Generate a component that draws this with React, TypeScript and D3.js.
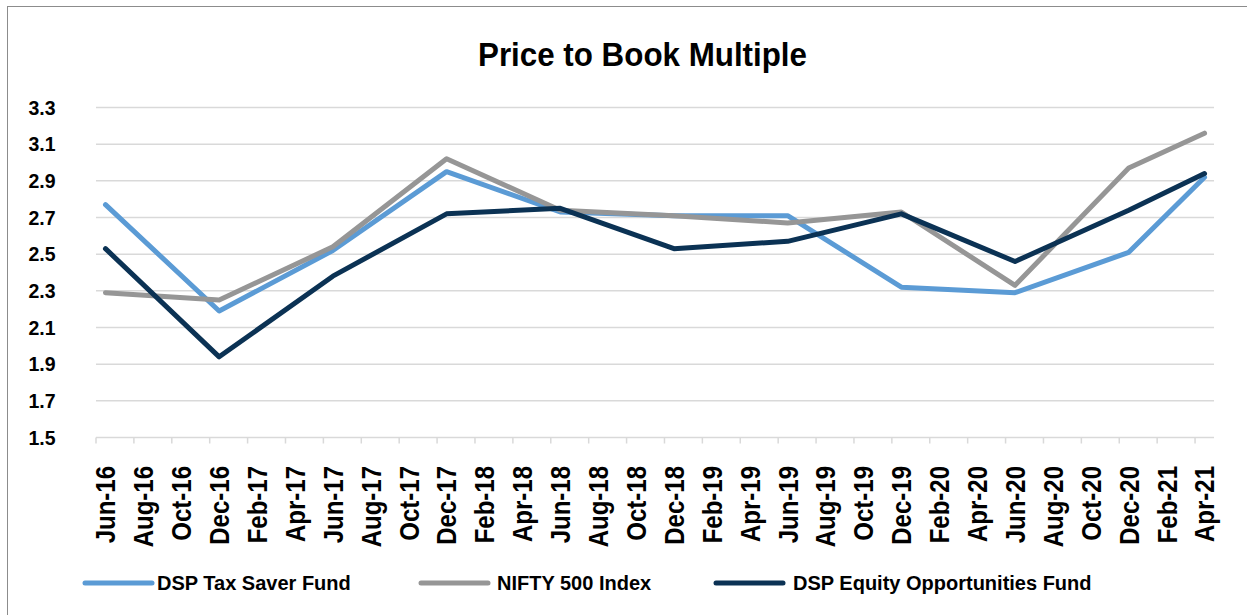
import React from 'react';
import * as d3 from 'd3';

// Price to Book multiple, semi-annual observations
const periods = ['Jun-16', 'Dec-16', 'Jun-17', 'Dec-17', 'Jun-18', 'Dec-18', 'Jun-19', 'Dec-19', 'Jun-20', 'Dec-20', 'Apr-21'];
const taxSaver = [2.77, 2.19, 2.52, 2.95, 2.73, 2.71, 2.71, 2.32, 2.29, 2.51, 2.92];
const nifty500 = [2.29, 2.25, 2.54, 3.02, 2.74, 2.71, 2.67, 2.73, 2.33, 2.97, 3.16];
const equityOpp = [2.53, 1.94, 2.38, 2.72, 2.75, 2.53, 2.57, 2.72, 2.46, 2.74, 2.94];

const tickLabels = [
  'Jun-16', 'Aug-16', 'Oct-16', 'Dec-16', 'Feb-17', 'Apr-17', 'Jun-17', 'Aug-17', 'Oct-17', 'Dec-17',
  'Feb-18', 'Apr-18', 'Jun-18', 'Aug-18', 'Oct-18', 'Dec-18', 'Feb-19', 'Apr-19', 'Jun-19', 'Aug-19',
  'Oct-19', 'Dec-19', 'Feb-20', 'Apr-20', 'Jun-20', 'Aug-20', 'Oct-20', 'Dec-20', 'Feb-21', 'Apr-21',
];
const yTickValues = [1.5, 1.7, 1.9, 2.1, 2.3, 2.5, 2.7, 2.9, 3.1, 3.3];

const seriesNames = ['DSP Tax Saver Fund', 'NIFTY 500 Index', 'DSP Equity Opportunities Fund'];
const seriesColors = ['#5B9BD5', '#969696', '#0B3254'];

const W = 1247;
const H = 615;
const FONT = "'Liberation Sans', Arial, sans-serif";

const parse = d3.timeParse('%b-%y');
const start = parse('Jun-16') as Date;
const monthIdx = (s: string) => d3.timeMonth.count(start, parse(s) as Date);

export default function App() {
  const nMonths = monthIdx('Apr-21') + 1; // 59 monthly slots
  const x = d3.scaleLinear().domain([0, nMonths]).range([96, 1214]);
  const y = d3.scaleLinear().domain([1.5, 3.3]).range([437.5, 107.5]);

  const line = d3.line<number>()
    .x((_, i) => x(monthIdx(periods[i]) + 0.5))
    .y(d => y(d));

  const allSeries = [taxSaver, nifty500, equityOpp];

  // legend placement
  const legendItems = [
    { lx: 85, tx: 157 },
    { lx: 421, tx: 497 },
    { lx: 716, tx: 793 },
  ];

  return (
    <svg width={W} height={H} style={{ position: 'absolute', left: 0, top: 0, background: '#fff' }}>
      <rect x={7.5} y={6.5} width={1300} height={700} fill="#fff" stroke="#8c8c8c" strokeWidth={1} />

      <text x={642.5} y={66} textAnchor="middle" fontFamily={FONT} fontWeight="bold" fontSize={33}
        textLength={329} lengthAdjust="spacingAndGlyphs" fill="#000">
        Price to Book Multiple
      </text>

      {/* gridlines + y labels */}
      {yTickValues.map(v => (
        <g key={v}>
          <line x1={x(0)} x2={x(nMonths)} y1={y(v)} y2={y(v)} stroke="#D9D9D9" strokeWidth={1.5} />
          <text x={28.5} y={y(v)} dy="0.36em" fontFamily={FONT} fontWeight="bold" fontSize={19.5} fill="#000">
            {v.toFixed(1)}
          </text>
        </g>
      ))}

      {/* x ticks + labels */}
      {tickLabels.map(lbl => {
        const i = monthIdx(lbl);
        const cx = x(i + 0.5);
        return (
          <g key={lbl}>
            <line x1={x(i)} x2={x(i)} y1={y(1.5)} y2={y(1.5) + 6} stroke="#D9D9D9" strokeWidth={1.5} />
            <text transform={`translate(${cx},466) rotate(-90) scale(1,1.15)`} textAnchor="end" dy="0.36em"
              fontFamily={FONT} fontWeight="bold" fontSize={24} fill="#000">
              {lbl}
            </text>
          </g>
        );
      })}

      {/* series */}
      {allSeries.map((s, k) => (
        <path key={k} d={line(s) || ''} fill="none" stroke={seriesColors[k]} strokeWidth={5}
          strokeLinejoin="round" strokeLinecap="round" />
      ))}

      {/* legend */}
      {seriesNames.map((name, k) => (
        <g key={name}>
          <line x1={legendItems[k].lx} x2={legendItems[k].lx + 67} y1={583} y2={583}
            stroke={seriesColors[k]} strokeWidth={5} strokeLinecap="round" />
          <text x={legendItems[k].tx} y={583} dy="0.36em" fontFamily={FONT} fontWeight="bold" fontSize={20} fill="#000">
            {name}
          </text>
        </g>
      ))}
    </svg>
  );
}
